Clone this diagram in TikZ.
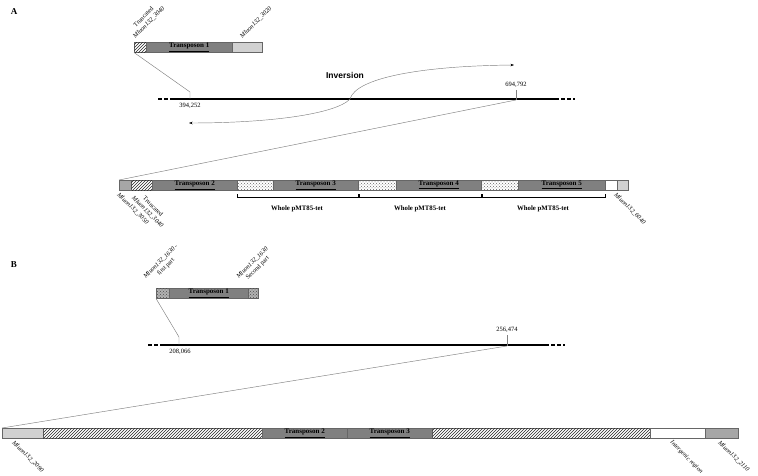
\documentclass[tikz,border=0pt]{standalone}
\usepackage{fontspec}
\setmainfont{Liberation Serif}
\newfontfamily\invfont{Liberation Sans}
\usetikzlibrary{patterns,arrows.meta}
\tikzset{
  seg/.style={draw=black!60, line width=0.5pt, minimum height=10pt, inner sep=0pt, anchor=north west,
    font=\fontsize{7}{7}\selectfont\bfseries},
  tp/.style={seg, fill=black!50},
  lg/.style={seg, fill=black!18},
  mg/.style={seg, fill=black!35},
  wh/.style={seg, fill=white},
  hatch/.style={seg, fill=white, postaction={pattern=north east lines, pattern color=black!85}},
  dotbox/.style={seg, fill=white, postaction={pattern=crosshatch dots, pattern color=black!60}},
  xbox/.style={seg, fill=black!30, postaction={pattern=crosshatch dots, pattern color=black!70}},
  lab/.style={font=\fontsize{6.3}{7.4}\selectfont, inner sep=0.5pt, align=center},
  num/.style={font=\fontsize{6.5}{7}\selectfont, inner sep=1pt},
  conn/.style={draw=black!50, line width=0.45pt},
  chr/.style={draw=black, line width=1.4pt},
  chrdash/.style={draw=black, line width=1.4pt, dash pattern=on 4pt off 2pt},
  brk/.style={draw=black, line width=0.6pt},
  whole/.style={font=\fontsize{6.8}{8}\selectfont\bfseries},
  panel/.style={font=\fontsize{9}{10}\selectfont\bfseries}
}
\newcommand\boxseg[6]{\node[#1, minimum width=#4-#3] (#2) at (#3,#5) {#6};}
\begin{document}
\begin{tikzpicture}[x=1pt,y=-1pt]
\useasboundingbox (0,0) rectangle (758,476);
% ---------- Panel A ----------
\node[panel] (pa) at (14,12) {A};
\boxseg{hatch}{a1h}{134}{146}{42}{}
\boxseg{tp}{a1t}{146}{232}{42}{\underline{Transposon 1}}
\boxseg{lg}{a1g}{232}{262}{42}{}
\node[lab, rotate=45, anchor=south west] (la1) at (136,40) {Truncated\\\textit{Mluon132\_3040}};
\node[lab, rotate=45, anchor=south west] (la2) at (243,40) {\textit{Mluon132\_3020}};
% chromosome A
\coordinate (cAl) at (158,99);
\coordinate (cAs) at (172,99);
\coordinate (cAe) at (555,99);
\coordinate (cAr) at (575,99);
\draw[chrdash] (cAl) -- (cAs);
\draw[chr] (cAs) -- (cAe);
\draw[chrdash] (cAe) -- (cAr);
\coordinate (pA1) at (190,99);
\coordinate (bA1) at (190,92);
\draw[conn] (a1h.south west) -- (bA1) -- (pA1);
\node[num, anchor=north] (nA1) at (190,102) {394,252};
\coordinate (pA2) at (516,100);
\coordinate (tA2) at (516,90);
\draw[conn] (tA2) -- (pA2);
\node[num, anchor=south] (nA2) at (516,89) {694,792};
% inversion
\node[font=\invfont\bfseries\fontsize{8.5}{9}\selectfont] (inv) at (345,75) {Inversion};
\coordinate (ic) at (350,99);
\coordinate (iu) at (514,65);
\coordinate (il) at (189,123);
\draw[conn, -{Stealth[length=3.5pt,width=2.5pt,black]}] (ic) .. controls (356,78) and (420,66) .. (iu);
\draw[conn, -{Stealth[length=3.5pt,width=2.5pt,black]}] (ic) .. controls (336,114) and (270,123) .. (il);
% bottom row A
\boxseg{mg}{ba1}{119}{131}{180}{}
\boxseg{hatch}{ba2}{131}{152}{180}{}
\boxseg{tp}{ba3}{152}{237}{180}{\underline{Transposon 2}}
\boxseg{dotbox}{ba4}{237}{273}{180}{}
\boxseg{tp}{ba5}{273}{358}{180}{\underline{Transposon 3}}
\boxseg{dotbox}{ba6}{358}{396}{180}{}
\boxseg{tp}{ba7}{396}{481}{180}{\underline{Transposon 4}}
\boxseg{dotbox}{ba8}{481}{518}{180}{}
\boxseg{tp}{ba9}{518}{605}{180}{\underline{Transposon 5}}
\boxseg{wh}{ba10}{605}{617}{180}{}
\boxseg{lg}{ba11}{617}{628}{180}{}
\draw[conn] (pA2) -- (ba1.north west);
% brackets
\draw[brk] (237,194) -- (237,197) -- (358,197) -- (358,194);
\draw[brk] (359,194) -- (359,197) -- (481,197) -- (481,194);
\draw[brk] (482,194) -- (482,197) -- (605,197) -- (605,194);
\node[whole] (w1) at (297,209) {Whole pMT85-tet};
\node[whole] (w2) at (420,209) {Whole pMT85-tet};
\node[whole] (w3) at (543,209) {Whole pMT85-tet};
\node[lab, rotate=-45, anchor=north west] (lb1) at (120,191) {\textit{Mluon132\_3050}};
\node[lab, rotate=-45, anchor=west] (lb2) at (135,194) {Truncated\\\textit{Mluon132\_3040}};
\node[lab, rotate=-45, anchor=north west] (lb3) at (617,191) {\textit{Mluon132\_6040}};
% ---------- Panel B ----------
\node[panel] (pb) at (14,265) {B};
\boxseg{xbox}{b1c}{156}{169}{288}{}
\boxseg{tp}{b1t}{169}{248}{288}{\underline{Transposon 1}}
\boxseg{xbox}{b1d}{248}{258}{288}{}
\node[lab, rotate=45, anchor=south west] (lc1) at (152,286) {\textit{Mluon132\_1630} -\\first part};
\node[lab, rotate=45, anchor=south west] (lc2) at (245,286) {\textit{Mluon132\_1630}\\Second part};
% chromosome B
\coordinate (cBl) at (148,345);
\coordinate (cBs) at (163,345);
\coordinate (cBe) at (545,345);
\coordinate (cBr) at (565,345);
\draw[chrdash] (cBl) -- (cBs);
\draw[chr] (cBs) -- (cBe);
\draw[chrdash] (cBe) -- (cBr);
\coordinate (pB1) at (179,345);
\coordinate (bB1) at (179,337);
\draw[conn] (b1c.south west) -- (bB1) -- (pB1);
\node[num, anchor=north] (nB1) at (180,348) {208,066};
\coordinate (pB2) at (507,346);
\coordinate (tB2) at (507,335);
\draw[conn] (tB2) -- (pB2);
\node[num, anchor=south] (nB2) at (507,334) {256,474};
% bottom row B
\boxseg{lg}{bb1}{2}{43}{428}{}
\boxseg{hatch}{bb2}{43}{262}{428}{}
\boxseg{tp}{bb3}{262}{347}{428}{\underline{Transposon 2}}
\boxseg{tp}{bb4}{347}{432}{428}{\underline{Transposon 3}}
\boxseg{hatch}{bb5}{432}{650}{428}{}
\boxseg{wh}{bb6}{650}{705}{428}{}
\boxseg{mg}{bb7}{705}{738}{428}{}
\draw[conn] (pB2) -- (bb1.north west);
\node[lab, rotate=-45, anchor=north west] (ld1) at (15,439) {\textit{Mluon132\_2090}};
\node[lab, rotate=-45, anchor=north west] (ld2) at (673,439) {\textit{Intergenic region}};
\node[lab, rotate=-45, anchor=north west] (ld3) at (721,439) {\textit{Mluon132\_2110}};
\end{tikzpicture}
\end{document}
